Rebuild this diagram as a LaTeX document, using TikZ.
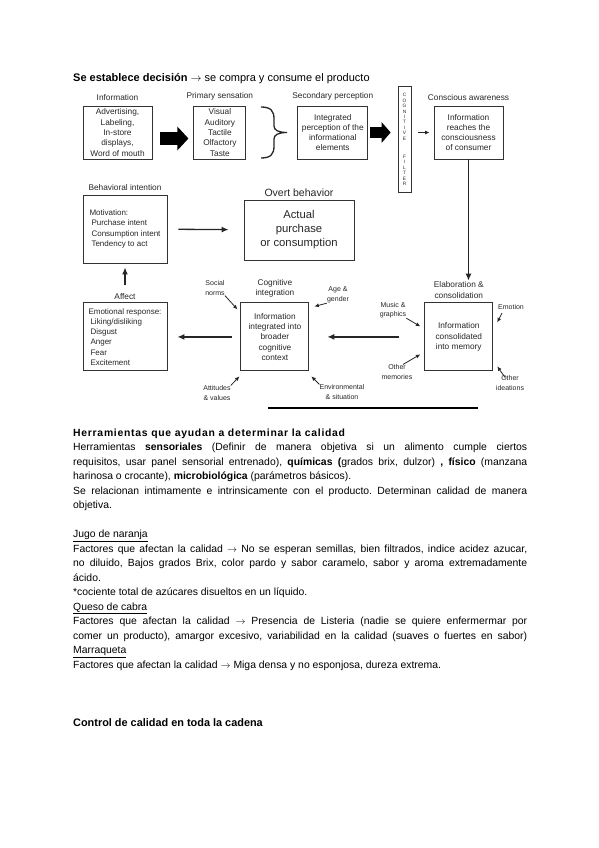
\documentclass[tikz,border=0pt]{standalone}
\usepackage{fontspec}
\setmainfont{Liberation Sans}
\usepackage{tikz}
\usetikzlibrary{shapes.geometric, arrows, arrows.meta, positioning, calc}

\newcommand{\diagfont}{\fontsize{8.3}{10.3}\selectfont}
\newcommand{\listfont}{\fontsize{8}{10.3}\selectfont}
\newcommand{\notefont}{\fontsize{7}{9.6}\selectfont}
\newcommand{\bigfont}{\fontsize{11.3}{14}\selectfont}
\newcommand{\bodyfont}{\fontsize{10.4}{14.5}\selectfont\frenchspacing}
\newcommand{\rarr}{$\rightarrow$}

\tikzstyle{box} = [draw=black!80, rectangle, line width=0.9pt, inner sep=0pt, align=center, text=black!85, font=\diagfont]
\tikzstyle{listbox} = [box, align=left, font=\listfont, minimum width=84pt, minimum height=68pt]
\tikzstyle{lbl} = [inner sep=0pt, align=center, text=black!85, font=\diagfont]
\tikzstyle{note} = [inner sep=0pt, align=center, text=black!85, font=\notefont]
\tikzstyle{arrow} = [draw=black!85, -{Latex[length=7pt,width=6pt]}, line width=1.3pt]
\tikzstyle{ptr} = [draw=black!85, -{Latex[length=4.5pt,width=4pt]}, line width=0.8pt]
\tikzstyle{bigarrow} = [draw=black, line width=13pt, -{Triangle[length=11pt,width=23pt]}]

\begin{document}
\begin{tikzpicture}[x=1pt, y=-1pt, node distance=5pt]
    \useasboundingbox (0,0) rectangle (599,848);

    \node (title) [anchor=base west, inner sep=0pt, font=\fontsize{11}{14}\selectfont] at (73,81.8) {\textbf{Se establece decisión} \rarr{} se compra y consume el producto};

    % top row
    \node (info) [box, minimum width=69pt, minimum height=53pt] at (117.5,132.5) {Advertising,\\Labeling,\\In-store\\displays,\\Word of mouth};
    \node (prim) [box, minimum width=52pt, minimum height=53pt, right=41pt of info] {Visual\\Auditory\\Tactile\\Olfactory\\Taste};
    \node (sec) [box, minimum width=70pt, minimum height=53pt, right=51pt of prim] {Integrated\\perception of the\\informational\\elements};
    \node (filter) [draw=black!80, line width=0.6pt, minimum width=13pt, minimum height=106pt, inner sep=0pt, align=center, text=black!85, font=\fontsize{4.8}{5.4}\selectfont] at (404.5,139.5) {C\\O\\G\\N\\I\\T\\I\\V\\E\\[13pt]F\\I\\L\\T\\E\\R};
    \node (consc) [box, minimum width=69pt, minimum height=53pt] at (468.5,132.5) {Information\\reaches the\\consciousness\\of consumer};

    \node (infolbl) [lbl, above=of info] {Information};
    \node (primlbl) [lbl, above=of prim] {Primary sensation};
    \node (seclbl) [lbl, above=of sec] {Secondary perception};
    \node (consclbl) [lbl, above=of consc] {Conscious awareness};

    % middle row
    \node (behav) [listbox] at (125,229) {Motivation:\\\hspace*{2pt}Purchase intent\\\hspace*{2pt}Consumption intent\\\hspace*{2pt}Tendency to act};
    \node (overt) [box, minimum width=110pt, minimum height=60pt, font=\bigfont] at (299,230) {Actual\\purchase\\or consumption};
    \node (behavlbl) [lbl, above=4pt of behav] {Behavioral intention};
    \node (overtlbl) [lbl, font=\fontsize{10.5}{12}\selectfont, above=2.5pt of overt] {Overt behavior};

    % bottom row
    \node (affect) [listbox, below=39pt of behav] {Emotional response:\\\hspace*{2pt}Liking/disliking\\\hspace*{2pt}Disgust\\\hspace*{2pt}Anger\\\hspace*{2pt}Fear\\\hspace*{2pt}Excitement};
    \node (cog) [box, minimum width=68pt, minimum height=68pt, right=73pt of affect] {Information\\integrated into\\broader\\cognitive\\context};
    \node (mem) [box, minimum width=68pt, minimum height=68pt, right=115pt of cog] {Information\\consolidated\\into memory};
    \node (affectlbl) [lbl, above=3pt of affect] {Affect};
    \node (coglbl) [lbl, above=of cog] {Cognitive\\integration};
    \node (elab) [lbl, above=4pt of mem] {Elaboration \&\\consolidation};

    % influences
    \node (social) [note] at (215,288) {Social\\norms};
    \node (agegen) [note] at (338,295) {Age \&\\gender};
    \node (attval) [note] at (217,393) {Attitudes\\\& values};
    \node (env) [note] at (342,392) {Environmental\\\& situation};
    \node (music) [note] at (393,310) {Music \&\\graphics};
    \node (othmem) [note] at (397,372) {Other\\memories};
    \node (emotion) [note] at (511,307) {Emotion};
    \node (othid) [note] at (510,383) {Other\\ideations};

    % connectors
    \draw [bigarrow, shorten <=8pt, shorten >=5pt] ($(info.east)+(0,6)$) -- ($(prim.west)+(0,6)$);
    \draw [line width=1.3pt, black!85] (261,107) .. controls (271,107) and (274,111) .. (274,119) -- (274,126) .. controls (274,130) and (278,132.5) .. (287,132.5) .. controls (278,132.5) and (274,135) .. (274,139) -- (274,146) .. controls (274,154) and (271,158) .. (261,158);
    \draw [bigarrow, line width=10pt, -{Triangle[length=9pt,width=20pt]}, shorten <=2pt, shorten >=7pt] (sec.east) -- (sec.east -| filter.west);
    \draw [ptr, line width=1pt, shorten <=7pt, shorten >=4pt] (filter.east |- sec.east) -- (consc.west);
    \draw [arrow, shorten >=1pt] (consc.south) -- (consc.south |- elab.north);
    \draw [arrow, shorten <=25pt, shorten >=18pt] (mem) -- (cog);
    \draw [arrow, shorten <=8pt, shorten >=10pt] (cog) -- (affect);
    \draw [arrow, shorten <=17pt, shorten >=4pt] (affect) -- (behav);
    \draw [arrow, shorten <=11pt, shorten >=15pt] (behav) -- (overt);

    \draw [ptr] (social.south east) -- ($(cog.north west)+(-3,7)$);
    \draw [ptr] (agegen.south west) -- ($(cog.north east)+(5,4)$);
    \draw [ptr] (attval.north east) -- ($(cog.south west)+(-1,5)$);
    \draw [ptr] (env.north west) -- ($(cog.south east)+(2,5)$);
    \draw [ptr] (music.south east) -- ($(mem.north west)+(-4,24)$);
    \draw [ptr] ($(othmem.north)+(6,0)$) -- ($(mem.south west)+(-4,-17)$);
    \draw [ptr] ($(emotion)+(-9,6)$) -- ($(mem.north east)+(4,20)$);
    \draw [ptr] ($(othid.north)+(-5,2)$) -- ($(mem.south east)+(4,-5)$);

    \draw [line width=1.3pt] (268,408) -- (478,408);

    % text below the diagram
    \node (tools) [anchor=base west, inner sep=0pt, text width=454pt, align=justify, font=\bodyfont] at (73,436.3) {%
        \textbf{\addfontfeature{LetterSpace=7}Herramientas que ayudan a determinar la calidad}\par
        Herramientas \textbf{sensoriales} (Definir de manera objetiva si un alimento cumple ciertos\linebreak
        requisitos, usar panel sensorial entrenado), \textbf{químicas (}grados brix, dulzor) \textbf{, físico} (manzana\linebreak
        harinosa o crocante), \textbf{microbiológica} (parámetros básicos).\par
        Se relacionan intimamente e intrinsicamente con el producto. Determinan calidad de manera\linebreak
        objetiva.\par\vspace{14.5pt}
        \underline{Jugo de naranja}\par
        Factores que afectan la calidad \rarr{} No se esperan semillas, bien filtrados, indice acidez azucar,\linebreak
        no diluido, Bajos grados Brix, color pardo y sabor caramelo, sabor y aroma extremadamente\linebreak
        ácido.\par
        *cociente total de azúcares disueltos en un líquido.\par
        \underline{Queso de cabra}\par
        {\parfillskip=0pt Factores que afectan la calidad \rarr{} Presencia de Listeria (nadie se quiere enfermermar por\linebreak
        comer un producto), amargor excesivo, variabilidad en la calidad (suaves o fuertes en sabor)\par}
        \underline{Marraqueta}\par
        Factores que afectan la calidad \rarr{} Miga densa y no esponjosa, dureza extrema.\par};
    \node (control) [anchor=base west, inner sep=0pt, font=\fontsize{10.9}{14.5}\selectfont] at (73,726.6) {\textbf{Control de calidad en toda la cadena}};
\end{tikzpicture}
\end{document}
